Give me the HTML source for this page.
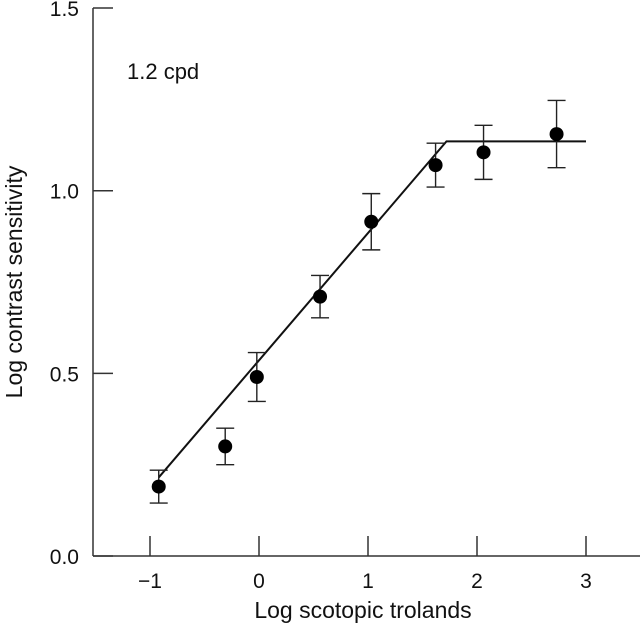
<!DOCTYPE html>
<html><head><meta charset="utf-8"><style>
body{margin:0;background:#fff}
svg{display:block;font-family:"Liberation Sans",Arial,sans-serif}
</style></head><body>
<svg width="640" height="631" viewBox="0 0 640 631">
<g id="axes"></g>
<g id="marks"></g>
<text x="127" y="79" font-size="22" fill="#111">1.2 cpd</text>
<text x="363" y="618" font-size="23" text-anchor="middle" fill="#111">Log scotopic trolands</text>
<text transform="translate(22,282) rotate(-90)" font-size="23" text-anchor="middle" fill="#111">Log contrast sensitivity</text>
</svg>
<script>
const xVals=[-0.92,-0.31,-0.02,0.56,1.03,1.62,2.06,2.73];
const yVals=[0.19,0.30,0.49,0.71,0.915,1.07,1.105,1.155];
const errVals=[0.045,0.05,0.067,0.058,0.077,0.06,0.074,0.092];
const fitX=[-0.92,1.72,3.0];
const fitY=[0.215,1.135,1.135];
const xTicks=[-1,0,1,2,3];
const xTickLabels=["\u22121","0","1","2","3"];
const yTicks=[0,0.5,1,1.5];
const yTickLabels=["0.0","0.5","1.0","1.5"];
const sx=v=>259+v*109;
const sy=v=>556-v*365.3;
const NS="http://www.w3.org/2000/svg";
function mk(parent,tag,attrs){const e=document.createElementNS(NS,tag);for(const k in attrs)e.setAttribute(k,attrs[k]);parent.appendChild(e);return e;}
const ax=document.getElementById('axes'),mg=document.getElementById('marks');
let l=mk(ax,'line',{x1:93,y1:sy(1.5),x2:93,y2:556,stroke:'#333','stroke-width':1.5});


l=mk(ax,'line',{x1:93,y1:556,x2:640,y2:556,stroke:'#333','stroke-width':1.5});


xTicks.forEach((v,i)=>{
 const t=mk(ax,'line',{x1:sx(v),y1:536,x2:sx(v),y2:556,stroke:'#333','stroke-width':1.5});
 
 
 const tx=mk(ax,'text',{x:sx(v),y:588,'font-size':21,'text-anchor':'middle',fill:'#111'});
 tx.textContent=xTickLabels[i];
 
 
});
yTicks.forEach((v,i)=>{
 const t=mk(ax,'line',{x1:93,y1:sy(v),x2:113,y2:sy(v),stroke:'#333','stroke-width':1.5});
 
 
 const tx=mk(ax,'text',{x:79,y:sy(v)+8,'font-size':21,'text-anchor':'end',fill:'#111'});
 tx.textContent=yTickLabels[i];
 
 
});
const fl=mk(mg,'polyline',{points:fitX.map((x,i)=>sx(x)+','+sy(fitY[i])).join(' '),fill:'none',stroke:'#111','stroke-width':2});


xVals.forEach((x,i)=>{
 const cx=sx(x),y1=sy(yVals[i]+errVals[i]),y2=sy(yVals[i]-errVals[i]);
 const g=mk(mg,'g',{stroke:'#222','stroke-width':1.4});
 
 
 mk(g,'line',{x1:cx,y1:y1,x2:cx,y2:y2});
 mk(g,'line',{x1:cx-9,y1:y1,x2:cx+9,y2:y1});
 mk(g,'line',{x1:cx-9,y1:y2,x2:cx+9,y2:y2});
 const c=mk(mg,'circle',{cx:cx,cy:sy(yVals[i]),r:7,fill:'#000'});
 
 
});
</script>
</body></html>
